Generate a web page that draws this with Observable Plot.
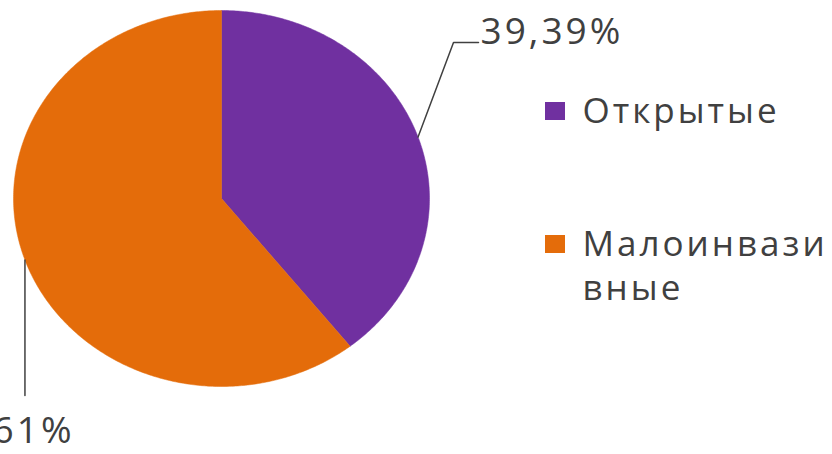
<!DOCTYPE html>
<html><head><meta charset="utf-8">
<script src="https://cdn.jsdelivr.net/npm/d3@7"></script>
<script src="https://cdn.jsdelivr.net/npm/@observablehq/plot@0.6"></script>
<style>body{margin:0;background:#fff;overflow:hidden;}</style>
</head><body><div id="chart"></div>
<script>
// Data
const categories = ["Открытые", "Малоинвазивные"];
const values = [39.39, 60.61];
const valueLabels = ["39,39%", "60,61%"];
const legendLines = [["Открытые"], ["Малоинвази", "вные"]];
const colors = ["#7030A0", "#E46C0A"];

// Layout
const W = 832, H = 454;
const cx = 221, cy = 198, rx = 208, ry = 188;
const textColor = "#404040";

const arcs = d3.pie().sort(null).value(d => d)(values);
const pt = (a) => ({x: cx + rx * Math.sin(a), y: cy - ry * Math.cos(a)});

const slices = arcs.map((a) => {
  const pts = [{x: cx, y: cy}];
  const n = Math.max(2, Math.ceil((a.endAngle - a.startAngle) / 0.01));
  for (let j = 0; j <= n; j++) pts.push(pt(a.startAngle + (a.endAngle - a.startAngle) * j / n));
  pts.push({x: cx, y: cy});
  return pts;
});

// Leader lines start at slice mid-angle on the edge
const mids = arcs.map(a => pt((a.startAngle + a.endAngle) / 2));
const leaders = [
  [mids[0], {x: 453, y: 42}, {x: 478, y: 42}],
  [mids[1], {x: mids[1].x, y: 395}]
];
const labelPos = [
  {x: 480, y: 32, anchor: "start"},
  {x: 74, y: 431, anchor: "end"}
];
const labelData = valueLabels.map((t, i) => ({text: t, ...labelPos[i]}));

const legendX = 545, legendTextX = 582;
const legendRowY = [111, 244];
const legendLineGap = 44;
const legendRects = categories.map((c, i) => ({cat: c, color: colors[i], y: legendRowY[i]}));
const legendTexts = legendLines.flatMap((lines, i) => lines.map((t, k) => ({text: t, y: legendRowY[i] + k * legendLineGap})));

const plot = Plot.plot({
  width: W, height: H, margin: 0,
  x: {domain: [0, W], range: [0, W], axis: null},
  y: {domain: [0, H], range: [0, H], axis: null},
  style: {fontFamily: "'Open Sans', sans-serif", overflow: "visible", background: "white", letterSpacing: "3px"},
  marks: [
    ...slices.map((pts, i) => Plot.line(pts, {x: "x", y: "y", fill: colors[i], stroke: colors[i], strokeWidth: 0.5, curve: "linear"})),
    ...leaders.map(l => Plot.line(l, {x: "x", y: "y", stroke: textColor, strokeWidth: 1.5})),
    ...labelData.map(d => Plot.text([d], {x: "x", y: "y", text: "text", textAnchor: d.anchor, fontSize: 37, fill: textColor})),
    Plot.rect(legendRects, {x1: legendX, x2: legendX + 20, y1: d => d.y - 9, y2: d => d.y + 9, fill: "color"}),
    Plot.text(legendTexts, {x: legendTextX, y: "y", text: "text", textAnchor: "start", fontSize: 35, fill: textColor})
  ]
});
document.getElementById("chart").appendChild(plot);
</script>
</body></html>
